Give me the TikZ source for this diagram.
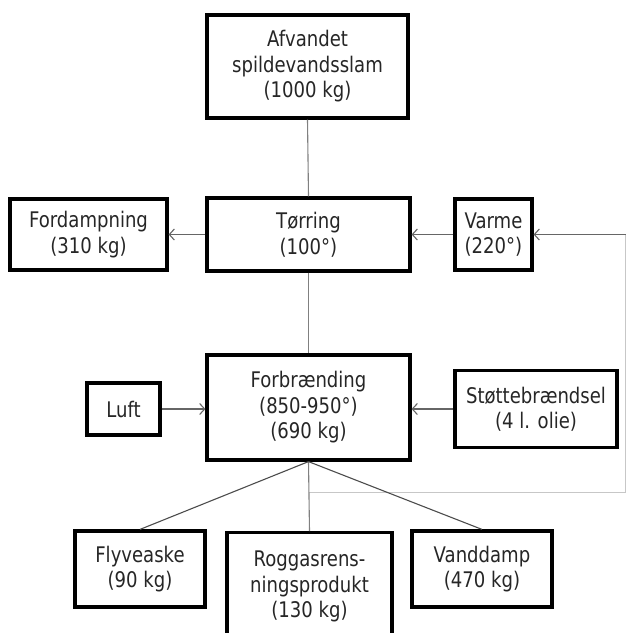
\documentclass[tikz,border=0pt]{standalone}
\usepackage{fontspec}
\setmainfont{DejaVu Sans}[FakeStretch=0.84]
\usetikzlibrary{arrows.meta}
\begin{document}
\begin{tikzpicture}[x=1pt,y=-1pt,
  box/.style={draw=black, line width=3.2pt, fill=white, align=center, inner sep=0pt,
    text=black!85, font=\fontsize{21.5}{25.5}\selectfont},
  link/.style={draw=black!50, line width=1.1pt},
  branch/.style={draw=black!70, line width=1.1pt},
  flow/.style={draw=black!60, line width=1.1pt, -{Straight Barb[length=5pt,width=11pt]}},
  loopline/.style={draw=black!22, line width=1pt}]
\useasboundingbox (0,0) rectangle (627,633);

% main process chain
\node[box, minimum width=201pt, minimum height=103pt] (slam) at (307.5,66.5) {Afvandet\\spildevandsslam\\(1000 kg)};
\node[box, minimum width=203pt, minimum height=73pt] (toer) at (308.5,234.5) {Tørring\\(100°)};
\node[box, minimum width=203pt, minimum height=105pt] (forb) at (308.5,407.5) {Forbrænding\\(850-950°)\\(690 kg)};

% side inputs and outputs
\node[box, minimum width=157pt, minimum height=71pt] (damp) at (88.5,234.5) {Fordampning\\(310 kg)};
\node[box, minimum width=77pt, minimum height=71pt] (varme) at (493.5,234.5) {Varme\\(220°)};
\node[box, minimum width=73pt, minimum height=52pt] (luft) at (123.5,409) {Luft};
\node[box, minimum width=162pt, minimum height=77pt] (stoette) at (536,409) {Støttebrændsel\\(4 l. olie)};

% products of the incineration
\node[box, minimum width=130pt, minimum height=76pt] (flyv) at (140,569) {Flyveaske\\(90 kg)};
\node[box, minimum width=165pt, minimum height=108pt, anchor=north] (rogg) at (309.5,531) {Roggasrens-\\ningsprodukt\\(130 kg)};
\node[box, minimum width=140pt, minimum height=76pt] (vand) at (482,569) {Vanddamp\\(470 kg)};

% heat return loop
\coordinate (tap) at (308.5,492);
\coordinate (r1) at (625.5,492);
\coordinate (r2) at (625.5,234.5);

\draw[loopline] (tap) -- (r1) -- (r2);
\draw[link] (slam.south) -- (toer.north);
\draw[link] (toer.south) -- (forb.north);
\draw[link] (forb.south) -- (rogg.north);
\draw[branch] (forb.south) -- (flyv.north);
\draw[branch] (forb.south) -- (vand.north);
\draw[flow] (toer) -- (damp);
\draw[flow] (varme) -- (toer);
\draw[flow] (r2) -- (varme);
\draw[flow] (luft) -- (luft -| forb.west);
\draw[flow] (stoette) -- (stoette -| forb.east);
\end{tikzpicture}
\end{document}
